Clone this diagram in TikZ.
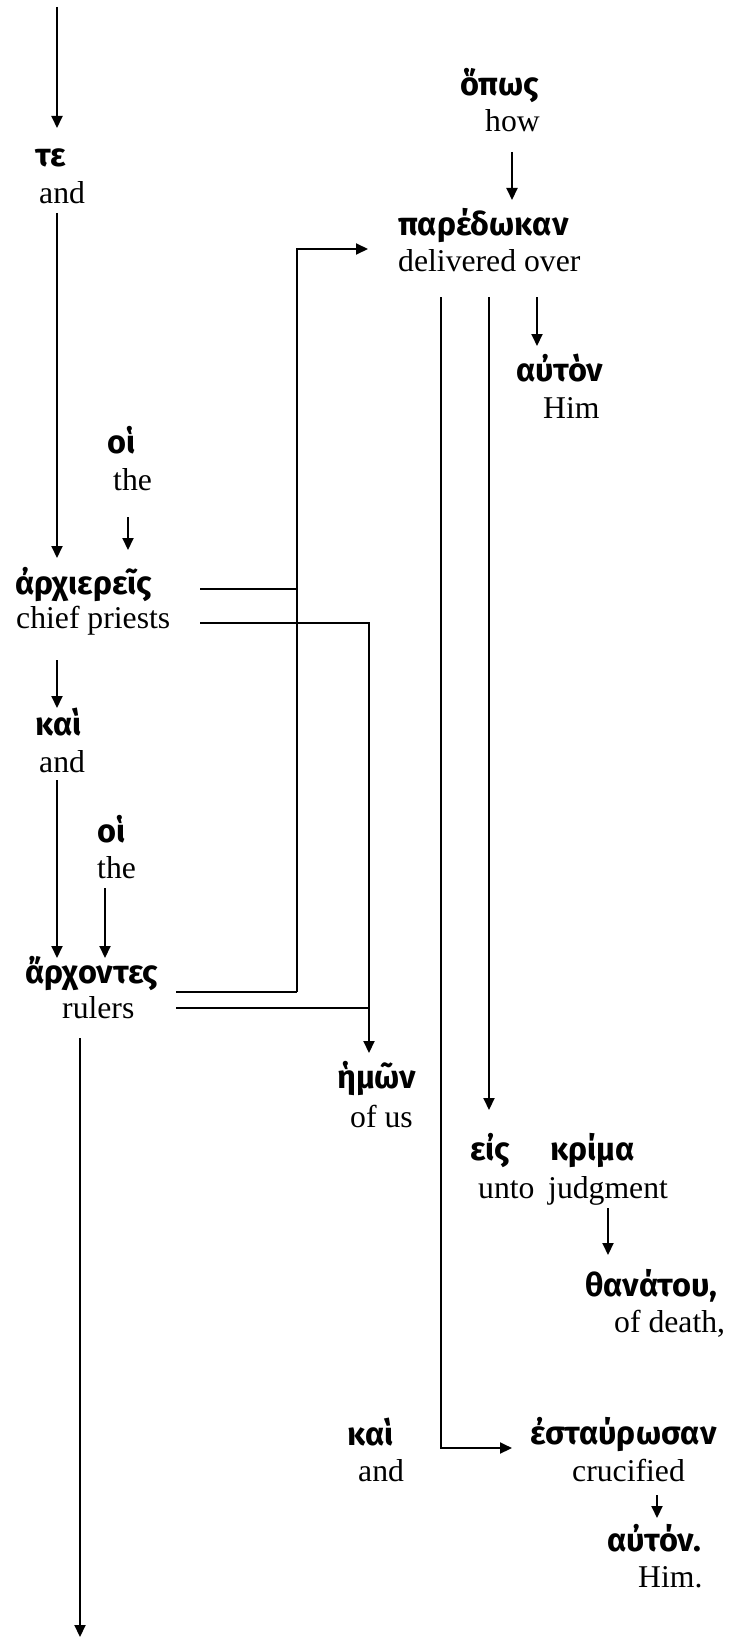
\documentclass[tikz,border=0pt]{standalone}
\usepackage{fontspec}
\setmainfont{Liberation Serif}
\newfontfamily\gkfont{Fira Sans}
\usetikzlibrary{arrows.meta}
\begin{document}
\begin{tikzpicture}[x=1pt,y=-1pt,
  en/.style={anchor=base west,inner sep=0pt,font=\fontsize{31.7}{36}\selectfont},
  gk/.style={anchor=base west,inner sep=0pt,font=\gkfont\bfseries\fontsize{32.5}{36}\selectfont},
  conn/.style={line width=2pt},
  arr/.style={conn,-{Triangle[width=11pt,length=12pt]}}]
\useasboundingbox (0,0) rectangle (735,1637);

% words
\node[gk] (g-te) at (35,167) {τε};
\node[en] (e-te) at (39,204) {and};
\node[gk] (g-opos) at (460,96) {ὅπως};
\node[en] (e-opos) at (485,132) {how};
\node[gk] (g-pared) at (398,236) {παρέδωκαν};
\node[en] (e-pared) at (398,271) {delivered over};
\node[gk] (g-auton1) at (516,381) {αὐτὸν};
\node[en] (e-auton1) at (543,418) {Him};
\node[gk] (g-hoi1) at (107,453) {οἱ};
\node[en] (e-hoi1) at (113,490) {the};
\node[gk] (g-arch) at (15,594) {ἀρχιερεῖς};
\node[en] (e-arch) at (16,628) {chief priests};
\node[gk] (g-kai1) at (35,735) {καὶ};
\node[en] (e-kai1) at (39,772) {and};
\node[gk] (g-hoi2) at (97,842) {οἱ};
\node[en] (e-hoi2) at (97,878) {the};
\node[gk] (g-arx) at (25,983) {ἄρχοντες};
\node[en] (e-arx) at (62,1018) {rulers};
\node[gk] (g-hmon) at (337,1088) {ἡμῶν};
\node[en] (e-hmon) at (350,1127) {of us};
\node[gk] (g-eis) at (470,1160) {εἰς};
\node[en] (e-eis) at (478,1198) {unto};
\node[gk] (g-krima) at (550,1160) {κρίμα};
\node[en] (e-krima) at (548,1198) {judgment};
\node[gk] (g-than) at (585,1296) {θανάτου,};
\node[en] (e-than) at (614,1332) {of death,};
\node[gk] (g-kai2) at (347,1445) {καὶ};
\node[en] (e-kai2) at (358,1481) {and};
\node[gk] (g-est) at (530,1444) {ἐσταύρωσαν};
\node[en] (e-est) at (572,1481) {crucified};
\node[gk] (g-auton2) at (607,1551) {αὐτόν.};
\node[en] (e-auton2) at (638,1587) {Him.};

% connector end points
\coordinate (top-in) at (57,7);
\coordinate (te-in) at (57,128);
\coordinate (te-out) at (57,213);
\coordinate (arch-in1) at (57,558);
\coordinate (hoi1-out) at (128,517);
\coordinate (arch-in2) at (128,550);
\coordinate (opos-out) at (512,152);
\coordinate (pared-in1) at (512,200);
\coordinate (pared-out1) at (537,297);
\coordinate (auton1-in) at (537,346);
\coordinate (arch-out1) at (200,589);
\coordinate (arch-out2) at (200,623);
\coordinate (arx-out1) at (176,992);
\coordinate (arx-out2) at (176,1008);
\coordinate (jA) at (297,589);
\coordinate (jA2) at (297,992);
\coordinate (jAtop) at (297,249);
\coordinate (pared-in2) at (368,249);
\coordinate (jB) at (369,623);
\coordinate (jB2) at (369,1008);
\coordinate (hmon-in) at (369,1053);
\coordinate (arch-out3) at (57,660);
\coordinate (kai1-in) at (57,708);
\coordinate (kai1-out) at (57,780);
\coordinate (arx-in1) at (57,958);
\coordinate (hoi2-out) at (105,888);
\coordinate (arx-in2) at (105,958);
\coordinate (arx-out3) at (80,1038);
\coordinate (bottom-end) at (80,1637);
\coordinate (pared-out2) at (489,297);
\coordinate (eis-in) at (489,1110);
\coordinate (pared-out3) at (441,297);
\coordinate (jC) at (441,1448);
\coordinate (est-in) at (512,1448);
\coordinate (krima-out) at (608,1208);
\coordinate (than-in) at (608,1255);
\coordinate (est-out) at (657,1495);
\coordinate (auton2-in) at (657,1518);

% connectors
\draw[arr] (top-in) -- (te-in);
\draw[arr] (te-out) -- (arch-in1);
\draw[arr] (hoi1-out) -- (arch-in2);
\draw[arr] (opos-out) -- (pared-in1);
\draw[arr] (pared-out1) -- (auton1-in);
\draw[conn] (arch-out1) -- (jA);
\draw[conn] (arx-out1) -- (jA2);
\draw[arr] (jA2) -- (jAtop) -- (pared-in2);
\draw[conn] (arx-out2) -- (jB2);
\draw[arr] (arch-out2) -- (jB) -- (hmon-in);
\draw[arr] (arch-out3) -- (kai1-in);
\draw[arr] (kai1-out) -- (arx-in1);
\draw[arr] (hoi2-out) -- (arx-in2);
\draw[arr] (arx-out3) -- (bottom-end);
\draw[arr] (pared-out2) -- (eis-in);
\draw[arr] (pared-out3) -- (jC) -- (est-in);
\draw[arr] (krima-out) -- (than-in);
\draw[arr] (est-out) -- (auton2-in);
\end{tikzpicture}
\end{document}
